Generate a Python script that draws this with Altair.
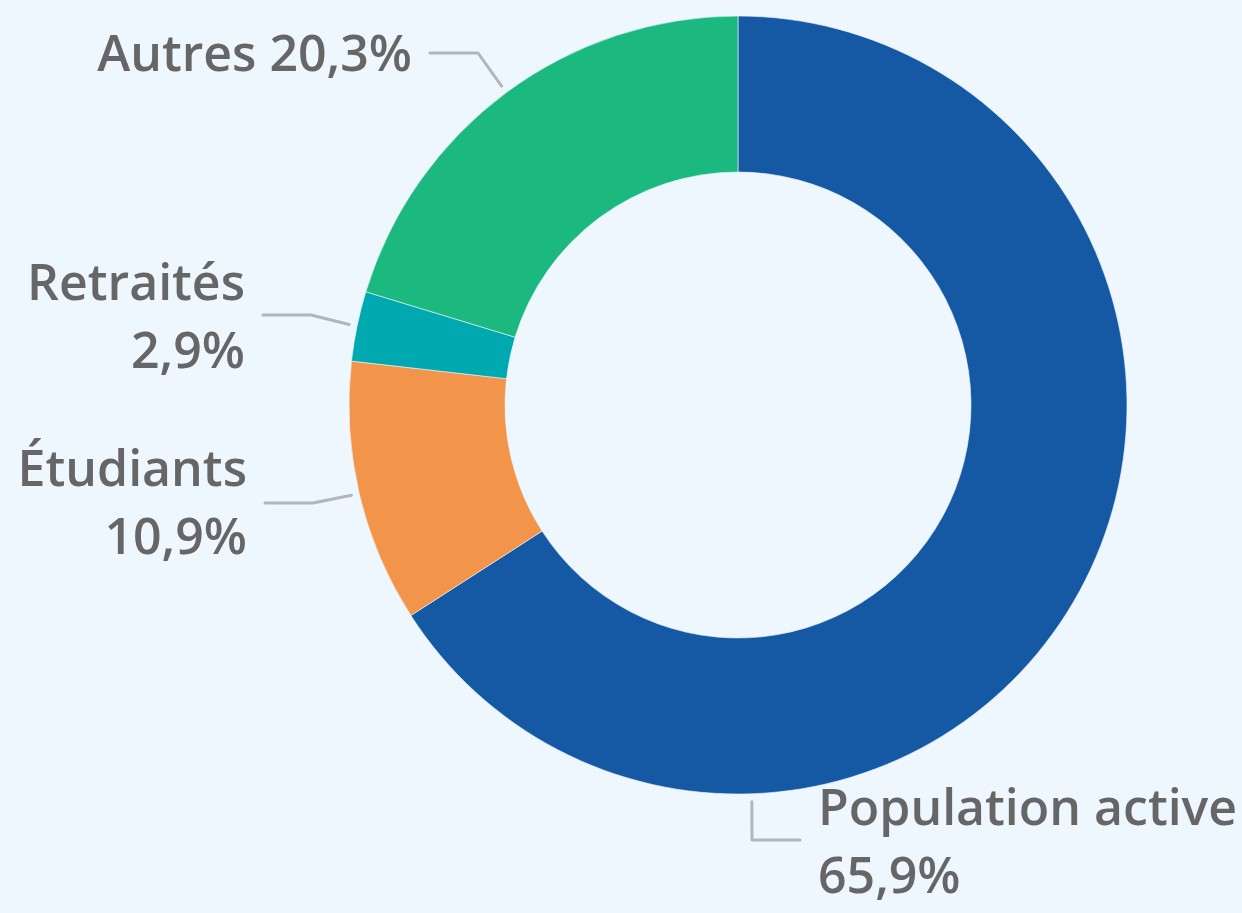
import math
import altair as alt
import pandas as pd

# ---- data ----
categories = ["Population active", "Étudiants", "Retraités", "Autres"]
values = [65.9, 10.9, 2.9, 20.3]
value_labels = ["65,9%", "10,9%", "2,9%", "20,3%"]
colors = ["#1558A4", "#F2944A", "#00A8B0", "#1BB97F"]

# ---- layout ----
W, H = 1242, 913
CX, CY = 738, 405
R_OUT, R_IN = 389, 233
BG = "#EEF6FE"
TEXT_COLOR = "#666666"
LINE_COLOR = "#B2B6BB"
FONT = "Open Sans"
FONT_SIZE = 50
LINE_H = 68

# label side / anchor positions (layout only)
label_side = {"Population active": "right", "Étudiants": "left", "Retraités": "left", "Autres": "left"}
label_text_x = {"Population active": 818, "Étudiants": 247, "Retraités": 245, "Autres": 412}
label_line_y = {"Population active": 840, "Étudiants": 503, "Retraités": 315, "Autres": 53}
label_text_y = {"Population active": 810, "Étudiants": 471, "Retraités": 285, "Autres": 56}
anchor_override_deg = {"Population active": 178.0}
multiline = {"Population active": True, "Étudiants": True, "Retraités": True, "Autres": False}

df = pd.DataFrame({"category": categories, "value": values, "order": range(len(categories))})

arc = alt.Chart(df).mark_arc(
    outerRadius=R_OUT, innerRadius=R_IN, stroke=BG, strokeWidth=0.6
).encode(
    theta=alt.Theta("value:Q", stack=True),
    order=alt.Order("order:Q"),
    color=alt.Color("category:N", scale=alt.Scale(domain=categories, range=colors), legend=None),
    x=alt.value(CX),
    y=alt.value(CY),
)

# connectors derived from slice mid-angles
total = sum(values)
cum = 0.0
line_rows = []
text_rows = []
for cat, v, lab in zip(categories, values, value_labels):
    mid = (cum + v / 2) / total * 360.0
    cum += v
    ang = anchor_override_deg.get(cat, mid)
    a = math.radians(ang)
    px = CX + (R_OUT + 8) * math.sin(a)
    py = CY - (R_OUT + 8) * math.cos(a)
    ly = label_line_y[cat]
    tx = label_text_x[cat]
    if label_side[cat] == "left":
        end_x = tx + 18
        elbow_x = end_x + 48
    else:
        end_x = tx - 18
        elbow_x = end_x - 48
    for i, (xx, yy) in enumerate([(px, py), (elbow_x, ly), (end_x, ly)]):
        line_rows.append({"category": cat, "i": i, "x": xx, "y": yy})
    txt = f"{cat}\n{lab}" if multiline[cat] else f"{cat} {lab}"
    text_rows.append({"category": cat, "x": tx, "y": label_text_y[cat], "txt": txt, "side": label_side[cat]})

lines_df = pd.DataFrame(line_rows)
text_df = pd.DataFrame(text_rows)

connectors = alt.Chart(lines_df).mark_line(
    color=LINE_COLOR, strokeWidth=3, strokeCap="round", strokeJoin="round"
).encode(
    x=alt.X("x:Q", scale=None),
    y=alt.Y("y:Q", scale=None),
    detail="category:N",
    order="i:Q",
)

left_text = alt.Chart(text_df[text_df.side == "left"]).mark_text(
    align="right", baseline="middle", font=FONT, fontSize=FONT_SIZE, fontWeight=600,
    color=TEXT_COLOR, lineBreak="\n", lineHeight=LINE_H,
).encode(x=alt.X("x:Q", scale=None), y=alt.Y("y:Q", scale=None), text="txt:N")

right_text = alt.Chart(text_df[text_df.side == "right"]).mark_text(
    align="left", baseline="middle", font=FONT, fontSize=FONT_SIZE, fontWeight=600,
    color=TEXT_COLOR, lineBreak="\n", lineHeight=LINE_H,
).encode(x=alt.X("x:Q", scale=None), y=alt.Y("y:Q", scale=None), text="txt:N")

chart = alt.layer(arc, connectors, left_text, right_text).properties(
    width=W, height=H, background=BG, padding=0,
    autosize=alt.AutoSizeParams(type="none"),
).configure_view(stroke=None)

chart.save("out.html", embed_options={"renderer": "svg", "actions": False})
